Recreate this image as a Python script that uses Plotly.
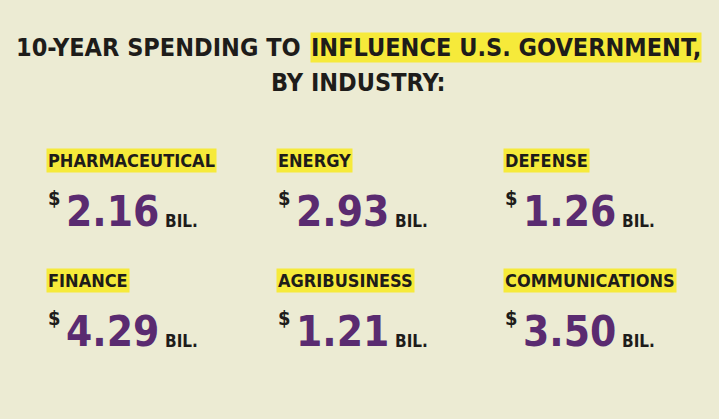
import plotly.graph_objects as go

industries = ["PHARMACEUTICAL", "ENERGY", "DEFENSE", "FINANCE", "AGRIBUSINESS", "COMMUNICATIONS"]
spending_bil = [2.16, 2.93, 1.26, 4.29, 1.21, 3.50]

BG = "#ecebd3"
YELLOW = "#f6ea3a"
PURPLE = "#5a2b70"
DARK = "#1e1c1a"
FONT = "DejaVu Sans Condensed, Liberation Sans Narrow, sans-serif"

col_x = [46, 276, 503]
row_y = [160, 280]

fig = go.Figure()
fig.update_xaxes(range=[0, 719], visible=False, fixedrange=True)
fig.update_yaxes(range=[419, 0], visible=False, fixedrange=True)

ann = []
# title
ann.append(dict(x=310, y=47, text="<b>10-YEAR SPENDING TO </b>", xanchor="right",
                font=dict(size=25, color=DARK, family=FONT)))
ann.append(dict(x=310, y=47, text="<b>INFLUENCE U.S. GOVERNMENT,</b>", xanchor="left",
                bgcolor=YELLOW, borderpad=0, font=dict(size=25, color=DARK, family=FONT)))
ann.append(dict(x=358, y=82, text="<b>BY INDUSTRY:</b>", xanchor="center",
                font=dict(size=25, color=DARK, family=FONT)))

for i, (name, val) in enumerate(zip(industries, spending_bil)):
    x0 = col_x[i % 3]
    y0 = row_y[i // 3]
    ann.append(dict(x=x0, y=y0, text="<b>%s</b>" % name, xanchor="left",
                    bgcolor=YELLOW, borderpad=1,
                    font=dict(size=18, color=DARK, family=FONT)))
    ann.append(dict(x=x0, y=y0 + 38, text="<b>$</b>", xanchor="left",
                    font=dict(size=20, color=DARK, family=FONT)))
    ann.append(dict(x=x0 + 18, y=y0 + 51, text="<b>%.2f</b>" % val, xanchor="left",
                    font=dict(size=42, color=PURPLE, family=FONT)))
    ann.append(dict(x=x0 + 117, y=y0 + 61, text="<b>BIL.</b>", xanchor="left",
                    font=dict(size=17, color=DARK, family=FONT)))

for a in ann:
    a.update(xref="x", yref="y", showarrow=False, yanchor="middle")
fig.update_layout(annotations=ann, width=719, height=419,
                  margin=dict(l=0, r=0, t=0, b=0),
                  paper_bgcolor=BG, plot_bgcolor=BG, showlegend=False)
fig.write_html("out.html", config={"displayModeBar": False},
               post_script="document.body.style.margin='0';")
